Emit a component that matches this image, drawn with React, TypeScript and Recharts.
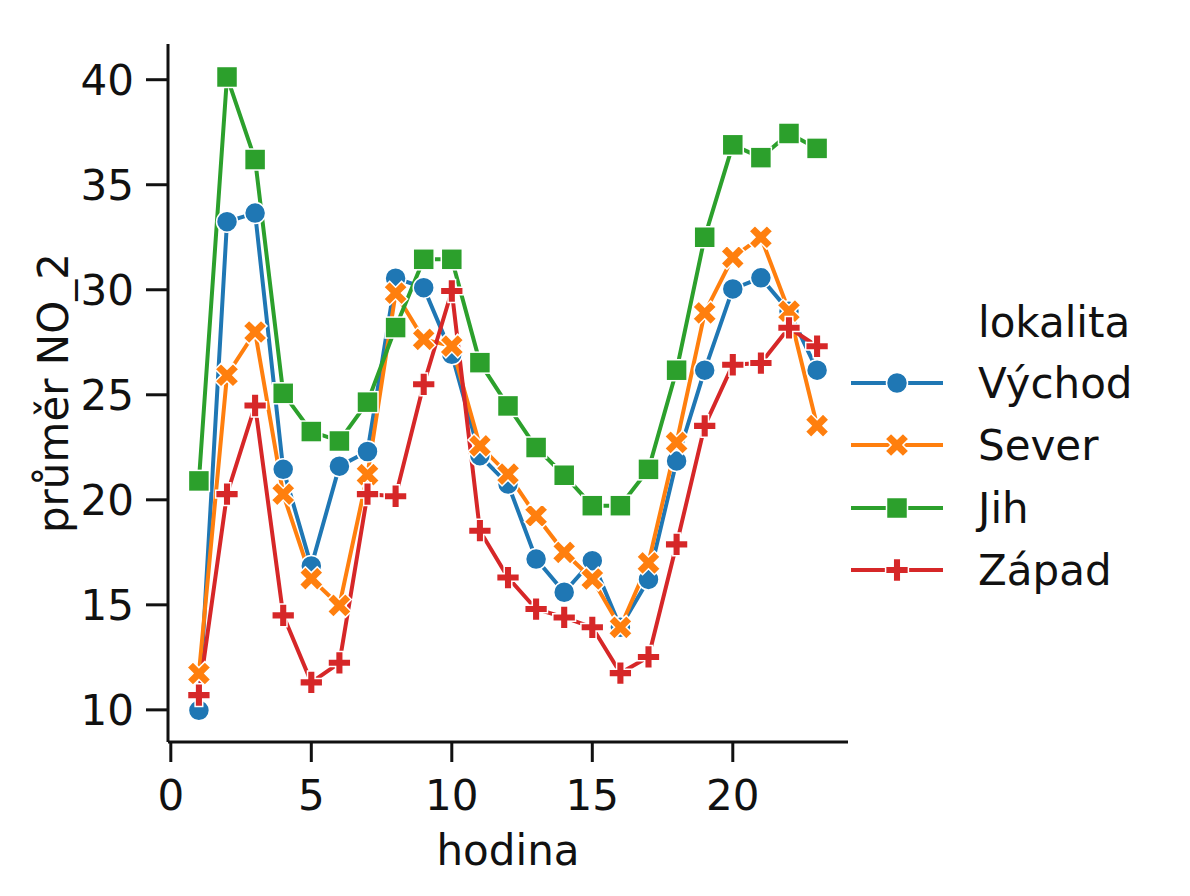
import React from "react";
import { LineChart, Line, XAxis, YAxis, Legend } from "recharts";

const HOURS = [1, 2, 3, 4, 5, 6, 7, 8, 9, 10, 11, 12, 13, 14, 15, 16, 17, 18, 19, 20, 21, 22, 23];
const VYCHOD = [9.98, 33.24, 33.65, 21.45, 16.85, 21.6, 22.3, 30.55, 30.1, 26.93, 22.1, 20.75, 17.18, 15.6, 17.1, 13.93, 16.21, 21.85, 26.17, 30.04, 30.57, 28.98, 26.17];
const SEVER = [11.73, 25.93, 27.99, 20.27, 16.25, 14.97, 21.2, 29.84, 27.64, 27.32, 22.57, 21.22, 19.24, 17.5, 16.23, 13.93, 17.0, 22.73, 28.9, 31.54, 32.5, 28.98, 23.53];
const JIH = [20.9, 40.13, 36.2, 25.07, 23.25, 22.8, 24.65, 28.2, 31.45, 31.45, 26.53, 24.47, 22.49, 21.17, 19.72, 19.72, 21.45, 26.17, 32.5, 36.9, 36.29, 37.44, 36.73];
const ZAPAD = [10.7, 20.27, 24.49, 14.5, 11.31, 12.24, 20.27, 20.17, 25.5, 29.94, 18.53, 16.3, 14.8, 14.4, 13.93, 11.75, 12.52, 17.88, 23.52, 26.43, 26.51, 28.19, 27.31];
const X_TICKS = [0, 5, 10, 15, 20];
const Y_TICKS = [10, 15, 20, 25, 30, 35, 40];

const FONT = "DejaVu Sans";
const INK = "#111";

type Shape = "circle" | "x" | "square" | "plus";

const SERIES: { key: string; name: string; color: string; shape: Shape }[] = [
  { key: "vychod", name: "Východ", color: "#1f77b4", shape: "circle" },
  { key: "sever", name: "Sever", color: "#ff7f0e", shape: "x" },
  { key: "jih", name: "Jih", color: "#2ca02c", shape: "square" },
  { key: "zapad", name: "Západ", color: "#d62728", shape: "plus" },
];

const data = HOURS.map((h, i) => ({
  hodina: h,
  vychod: VYCHOD[i],
  sever: SEVER[i],
  jih: JIH[i],
  zapad: ZAPAD[i],
}));

// filled plus outline (matplotlib "P"), unit = size / 6
const PLUS = [
  [-1, -3], [1, -3], [1, -1], [3, -1], [3, 1], [1, 1],
  [1, 3], [-1, 3], [-1, 1], [-3, 1], [-3, -1], [-1, -1],
];

function polyPoints(cx: number, cy: number, unit: number, rotate: boolean) {
  return PLUS.map(([x, y]) => {
    let px = x * unit;
    let py = y * unit;
    if (rotate) {
      const r = Math.SQRT1_2;
      [px, py] = [(px - py) * r, (px + py) * r];
    }
    return `${cx + px},${cy + py}`;
  }).join(" ");
}

function Marker({ cx, cy, color, shape }: { cx: number; cy: number; color: string; shape: Shape }) {
  const common = { fill: color, stroke: "#fff", strokeWidth: 1.5 };
  if (shape === "circle") return <circle cx={cx} cy={cy} r={10.5} {...common} />;
  if (shape === "square") return <rect x={cx - 10.5} y={cy - 10.5} width={21} height={21} {...common} />;
  if (shape === "x") return <polygon points={polyPoints(cx, cy, 4.2, true)} {...common} />;
  return <polygon points={polyPoints(cx, cy, 3.8, false)} {...common} />;
}

function makeDot(color: string, shape: Shape) {
  return (props: any) => {
    const { cx, cy, index } = props;
    if (cx == null || cy == null) return <g key={index} />;
    return <Marker key={index} cx={cx} cy={cy} color={color} shape={shape} />;
  };
}

function XLabel(props: any) {
  const vb = props.viewBox;
  return (
    <text x={vb.x + vb.width / 2} y={vb.y + 123} textAnchor="middle" fontSize={42} fontFamily={FONT} fill={INK}>
      hodina
    </text>
  );
}

function YLabel(props: any) {
  const vb = props.viewBox;
  const x = 60;
  const y = vb.y + vb.height / 2;
  return (
    <text x={x} y={y} transform={`rotate(-90, ${x}, ${y})`} textAnchor="middle" fontSize={42} fontFamily={FONT} fill={INK}>
      průměr NO_2
    </text>
  );
}

function LegendBox() {
  const rows = [90, 152, 215, 277];
  return (
    <svg width={340} height={320}>
      <text x={135} y={44} fontSize={42} fontFamily={FONT} fill={INK}>
        lokalita
      </text>
      {SERIES.map((s, i) => (
        <g key={s.key}>
          <line x1={8} x2={100} y1={rows[i]} y2={rows[i]} stroke={s.color} strokeWidth={4} />
          <Marker cx={54} cy={rows[i]} color={s.color} shape={s.shape} />
          <text x={135} y={rows[i] + 15} fontSize={42} fontFamily={FONT} fill={INK}>
            {s.name}
          </text>
        </g>
      ))}
    </svg>
  );
}

export default function App() {
  const tick = { fontSize: 42, fontFamily: FONT, fill: INK };
  const axisLine = { stroke: INK, strokeWidth: 3 };
  return (
    <LineChart width={1180} height={880} data={data} margin={{ top: 36, right: 340, left: 0, bottom: 0 }}>
      <XAxis
        dataKey="hodina"
        type="number"
        domain={[-0.1, 24.1]}
        ticks={X_TICKS}
        tick={tick}
        tickSize={20}
        tickMargin={18}
        height={146}
        axisLine={axisLine}
        tickLine={axisLine}
        allowDataOverflow
        label={{ content: XLabel }}
      />
      <YAxis
        type="number"
        domain={[8.47, 41.7]}
        ticks={Y_TICKS}
        tick={tick}
        tickSize={22}
        tickMargin={12}
        width={160}
        axisLine={axisLine}
        tickLine={axisLine}
        allowDataOverflow
        label={{ content: YLabel }}
      />
      <Legend
        layout="vertical"
        align="center"
        verticalAlign="middle"
        wrapperStyle={{ left: 835, top: 285, width: 340 }}
        content={() => <LegendBox />}
      />
      {SERIES.map((s) => (
        <Line
          key={s.key}
          dataKey={s.key}
          name={s.name}
          type="linear"
          stroke={s.color}
          strokeWidth={4}
          dot={makeDot(s.color, s.shape)}
          activeDot={false}
          isAnimationActive={false}
        />
      ))}
    </LineChart>
  );
}
